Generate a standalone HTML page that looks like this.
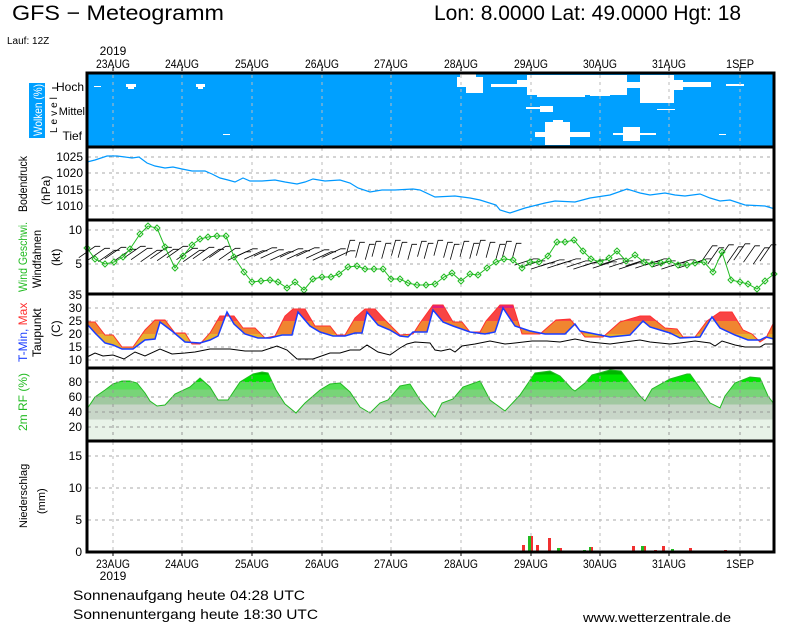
<!DOCTYPE html>
<html><head><meta charset="utf-8"><style>
html,body{margin:0;padding:0;background:#fff;width:800px;height:625px;overflow:hidden}
svg{display:block}
text{font-family:"Liberation Sans",sans-serif}
</style></head><body>
<svg width="800" height="625" viewBox="0 0 800 625" xmlns="http://www.w3.org/2000/svg">
<defs>
<linearGradient id="tg" gradientUnits="userSpaceOnUse" x1="0" y1="294" x2="0" y2="368">
<stop offset="0" stop-color="#e0207a"/><stop offset="0.189" stop-color="#e0207a"/>
<stop offset="0.189" stop-color="#f84444"/><stop offset="0.365" stop-color="#f84444"/>
<stop offset="0.365" stop-color="#f08530"/><stop offset="0.54" stop-color="#f08530"/>
<stop offset="0.54" stop-color="#e8b030"/><stop offset="1" stop-color="#e8b030"/>
</linearGradient>
<linearGradient id="rg" gradientUnits="userSpaceOnUse" x1="0" y1="367" x2="0" y2="442">
<stop offset="0" stop-color="#00b400"/><stop offset="0.1" stop-color="#00b400"/>
<stop offset="0.1" stop-color="#00e400"/><stop offset="0.2" stop-color="#00e400"/>
<stop offset="0.2" stop-color="#55e055"/><stop offset="0.3" stop-color="#55e055"/>
<stop offset="0.3" stop-color="#78d478"/><stop offset="0.4" stop-color="#78d478"/>
<stop offset="0.4" stop-color="#a0c8a0"/><stop offset="0.5" stop-color="#a0c8a0"/>
<stop offset="0.5" stop-color="#c8d6c8"/><stop offset="0.7" stop-color="#c8d6c8"/>
<stop offset="0.7" stop-color="#e8f3e8"/><stop offset="1" stop-color="#e8f3e8"/>
</linearGradient>
</defs>

<text x="12" y="20" font-size="21" textLength="212" lengthAdjust="spacingAndGlyphs">GFS − Meteogramm</text>
<text x="434" y="20" font-size="21">Lon: 8.0000  Lat: 49.0000  Hgt: 18</text>
<text x="7" y="44" font-size="10">Lauf: 12Z</text>
<g font-size="12" text-anchor="middle">
<text x="113" y="55">2019</text>
<text x="113" y="68" textLength="34" lengthAdjust="spacingAndGlyphs">23AUG</text>
<text x="182" y="68" textLength="34" lengthAdjust="spacingAndGlyphs">24AUG</text>
<text x="252" y="68" textLength="34" lengthAdjust="spacingAndGlyphs">25AUG</text>
<text x="322" y="68" textLength="34" lengthAdjust="spacingAndGlyphs">26AUG</text>
<text x="391" y="68" textLength="34" lengthAdjust="spacingAndGlyphs">27AUG</text>
<text x="461" y="68" textLength="34" lengthAdjust="spacingAndGlyphs">28AUG</text>
<text x="531" y="68" textLength="34" lengthAdjust="spacingAndGlyphs">29AUG</text>
<text x="600" y="68" textLength="34" lengthAdjust="spacingAndGlyphs">30AUG</text>
<text x="669" y="68" textLength="34" lengthAdjust="spacingAndGlyphs">31AUG</text>
<text x="740" y="68" textLength="28" lengthAdjust="spacingAndGlyphs">1SEP</text>
</g>

<rect x="87" y="73" width="687" height="74" fill="#00a0ff"/>
<g fill="#fff">
<rect x="94" y="86" width="7" height="1"/>
<rect x="126" y="84" width="10" height="3"/><rect x="128" y="87" width="6" height="2"/>
<rect x="196" y="84" width="9" height="3"/><rect x="198" y="87" width="5" height="2"/>
<rect x="223" y="134" width="7" height="1"/>
<rect x="457" y="77" width="26" height="10"/><rect x="466" y="86" width="17" height="7"/><rect x="460" y="74" width="16" height="4"/>
<rect x="491" y="84" width="40" height="3"/><rect x="517" y="80" width="20" height="7"/>
<rect x="527" y="75" width="100" height="20"/><rect x="537" y="94" width="48" height="3"/><rect x="590" y="94" width="20" height="2"/>
<rect x="627" y="82" width="14" height="6"/><rect x="640" y="75" width="34" height="28"/><rect x="673" y="80" width="10" height="10"/><rect x="683" y="82" width="28" height="5"/>
<rect x="726" y="84" width="18" height="2"/>
<rect x="526" y="107" width="27" height="2"/><rect x="540" y="106" width="13" height="6"/>
<rect x="657" y="109" width="18" height="1"/>
<rect x="535" y="132" width="55" height="5"/><rect x="545" y="122" width="25" height="23"/><rect x="553" y="120" width="10" height="3"/>
<rect x="613" y="133" width="43" height="2"/><rect x="623" y="127" width="17" height="14"/>
<rect x="719" y="134" width="7" height="1"/>
</g>

<g stroke="#aaa" stroke-width="1" stroke-dasharray="3,4">
<line x1="88" x2="773" y1="157" y2="157"/><line x1="88" x2="773" y1="173" y2="173"/><line x1="88" x2="773" y1="190" y2="190"/><line x1="88" x2="773" y1="206" y2="206"/>
<line x1="88" x2="773" y1="230" y2="230"/><line x1="88" x2="773" y1="264" y2="264"/>
<line x1="88" x2="773" y1="308" y2="308"/><line x1="88" x2="773" y1="321" y2="321"/><line x1="88" x2="773" y1="334" y2="334"/><line x1="88" x2="773" y1="347" y2="347"/><line x1="88" x2="773" y1="360" y2="360"/>
<line x1="88" x2="773" y1="456" y2="456"/><line x1="88" x2="773" y1="488" y2="488"/><line x1="88" x2="773" y1="520" y2="520"/>
</g>
<g stroke="#bbb" stroke-width="1" stroke-dasharray="3,4">
<path d="M113 75V146M182 75V146M252 75V146M322 75V146M391 75V146M461 75V146M531 75V146M600 75V146M669 75V146M740 75V146"/>
<path d="M113 148V219M182 148V219M252 148V219M322 148V219M391 148V219M461 148V219M531 148V219M600 148V219M669 148V219M740 148V219"/>
<path d="M113 221V293M182 221V293M252 221V293M322 221V293M391 221V293M461 221V293M531 221V293M600 221V293M669 221V293M740 221V293"/>
<path d="M113 295V367M182 295V367M252 295V367M322 295V367M391 295V367M461 295V367M531 295V367M600 295V367M669 295V367M740 295V367"/>
<path d="M113 442V551M182 442V551M252 442V551M322 442V551M391 442V551M461 442V551M531 442V551M600 442V551M669 442V551M740 442V551"/>
</g>

<polyline fill="none" stroke="#0099ff" stroke-width="1.2" points="87,162 95,160 107,156 117,156 125,157 132,158 139,157 147,163 155,166 165,168 173,167 182,169 192,171 205,171 212,174 220,178 228,180 235,182 243,178 250,181 262,181 275,180 285,182 297,184 305,182 313,179 325,181 340,180 350,183 358,188 370,192 382,190 395,190 413,189 420,190 435,197 455,196 470,198 480,200 496,205 500,210 510,213 525,208 545,203 555,201 575,202 590,198 610,195 627,189 640,193 650,195 665,193 675,195 685,196 700,194 710,198 720,201 730,200 745,205 765,206 775,209"/>

<g id="barbs" stroke="#000" stroke-width="0.8" fill="none"></g>
<g id="ws">
<polyline fill="none" stroke="#22bb22" stroke-width="1" points="87,248 95,259 105,264 114,262 123,257 130,249 140,234 148,226 157,228 165,247 175,268 183,256 192,245 200,239 208,237 217,236 226,236 234,257 244,272 252,282 261,281 270,280 278,282 287,288 295,282 304,290 313,279 322,277 331,277 339,274 348,267 357,266 365,269 374,269 383,269 391,279 400,279 408,283 417,285 426,285 435,284 444,277 452,273 461,281 470,274 478,275 487,268 496,262 504,259 513,260 522,268 530,262 539,262 548,256 557,242 565,242 574,240 583,251 591,259 600,262 609,258 617,251 626,261 635,255 644,262 652,264 661,263 669,261 678,265 687,265 695,263 704,262 713,272 722,252 731,280 740,282 748,284 757,289 765,281 774,274"/>
</g>

<polygon fill="url(#tg)" points="87,322 95,322 105,335 113,335 122,347 133,347 145,330 155,320 165,320 175,333 185,333 192,344 200,344 210,333 220,316 234,316 243,328 255,328 265,338 275,336 285,316 293,309 305,309 315,326 330,326 337,335 345,335 355,318 365,309 375,309 385,320 400,335 413,334 420,323 433,305 443,305 453,322 462,322 470,332 480,332 486,321 500,305 513,305 522,334 540,334 556,320 570,319 585,337 603,337 620,322 640,316 650,316 665,328 677,329 683,337 695,337 707,321 720,312 732,312 743,330 752,334 760,342 766,338 774,322 774,339 766,337 760,340 748,340 735,335 720,328 712,317 700,337 680,338 670,333 650,327 643,321 630,335 610,337 595,334 580,331 575,324 565,334 545,334 530,331 515,326 503,308 495,332 485,334 470,332 453,326 443,322 433,310 427,332 413,332 408,337 400,336 390,330 378,325 367,312 362,333 355,333 345,336 333,336 320,332 310,326 298,312 292,335 282,335 270,338 258,338 245,334 234,324 227,312 218,336 210,340 200,343 185,342 172,331 160,322 155,339 145,340 133,349 122,349 113,345 105,343 95,333 87,324"/>
<polyline fill="none" stroke="#ff3030" stroke-width="1" points="87,322 95,322 105,335 113,335 122,347 133,347 145,330 155,320 165,320 175,333 185,333 192,344 200,344 210,333 220,316 234,316 243,328 255,328 265,338 275,336 285,316 293,309 305,309 315,326 330,326 337,335 345,335 355,318 365,309 375,309 385,320 400,335 413,334 420,323 433,305 443,305 453,322 462,322 470,332 480,332 486,321 500,305 513,305 522,334 540,334 556,320 570,319 585,337 603,337 620,322 640,316 650,316 665,328 677,329 683,337 695,337 707,321 720,312 732,312 743,330 752,334 760,342 766,338 774,322"/>
<polyline fill="none" stroke="#1a3cff" stroke-width="1.5" points="87,324 95,333 105,343 113,345 122,349 133,349 145,340 155,339 160,322 172,331 185,342 200,343 210,340 218,336 227,312 234,324 245,334 258,338 270,338 282,335 292,335 298,312 310,326 320,332 333,336 345,336 355,333 362,333 367,312 378,325 390,330 400,336 408,337 413,332 427,332 433,310 443,322 453,326 470,332 485,334 495,332 503,308 515,326 530,331 545,334 565,334 575,324 580,331 595,334 610,337 630,335 643,321 650,327 670,333 680,338 700,337 712,317 720,328 735,335 748,340 760,340 766,337 774,339"/>
<polyline fill="none" stroke="#000" stroke-width="1" points="87,357 95,353 103,356 113,355 124,359 135,352 145,356 160,349 172,354 185,353 195,352 210,349 230,349 245,351 262,351 277,346 287,350 297,359 313,359 330,353 340,353 350,350 360,350 367,345 378,352 390,355 400,348 407,344 415,342 430,343 435,350 441,351 450,349 455,352 462,346 475,344 490,341 505,344 515,343 532,341 547,341 560,342 575,339 590,342 610,344 625,342 640,340 650,342 670,344 680,343 695,341 710,343 715,346 722,341 735,345 745,347 760,347 765,344 774,344"/>

<polygon fill="url(#rg)" stroke="#22bb22" stroke-width="1" points="87,442 87,409 95,397 105,390 113,384 122,381 130,381 137,383 145,393 150,401 157,406 165,405 175,394 190,387 200,378 210,387 218,400 228,400 240,382 253,374 262,372 268,373 276,390 285,404 296,413 305,403 320,390 330,384 340,383 350,392 360,407 370,413 380,403 388,400 400,386 410,384 420,400 435,417 442,403 453,399 463,387 480,381 490,400 505,411 520,395 535,373 550,371 560,376 572,389 575,391 585,383 592,375 610,370 621,371 630,383 640,396 645,401 652,389 670,379 687,374 690,374 700,388 710,403 720,408 725,396 735,383 750,377 760,378 768,396 774,404 774,442"/>
<g stroke="#999" stroke-width="1" stroke-dasharray="3,4">
<line x1="88" x2="773" y1="382" y2="382"/><line x1="88" x2="773" y1="397" y2="397"/><line x1="88" x2="773" y1="412" y2="412"/><line x1="88" x2="773" y1="427" y2="427"/>
<path d="M113 369V440M182 369V440M252 369V440M322 369V440M391 369V440M461 369V440M531 369V440M600 369V440M669 369V440M740 369V440"/>
</g>

<g>
<rect x="522" y="545" width="3" height="7" fill="#f03030"/>
<rect x="528" y="536" width="3" height="16" fill="#22bb22"/><rect x="531" y="536" width="2" height="16" fill="#f03030"/>
<rect x="536" y="545" width="3" height="7" fill="#f03030"/>
<rect x="548" y="538" width="3" height="14" fill="#f03030"/>
<rect x="557" y="548" width="3" height="4" fill="#22bb22"/><rect x="560" y="548" width="2" height="4" fill="#f03030"/>
<rect x="583" y="550" width="3" height="2" fill="#22bb22"/>
<rect x="589" y="547" width="3" height="5" fill="#22bb22"/><rect x="591" y="547" width="2" height="5" fill="#f03030"/>
<rect x="632" y="546" width="3" height="6" fill="#f03030"/>
<rect x="641" y="546" width="3" height="6" fill="#22bb22"/><rect x="644" y="546" width="2" height="6" fill="#f03030"/>
<rect x="654" y="550" width="3" height="2" fill="#f03030"/>
<rect x="662" y="546" width="3" height="6" fill="#f03030"/>
<rect x="671" y="549" width="3" height="3" fill="#22bb22"/>
<rect x="689" y="548" width="3" height="4" fill="#f03030"/>
<rect x="724" y="550" width="3" height="2" fill="#f03030"/>
</g>

<g stroke="#000" stroke-width="3" fill="none">
<rect x="87" y="73" width="687" height="479"/>
<line x1="87" x2="774" y1="147" y2="147"/><line x1="87" x2="774" y1="220" y2="220"/><line x1="87" x2="774" y1="294" y2="294"/><line x1="87" x2="774" y1="368" y2="368"/><line x1="87" x2="774" y1="441" y2="441"/>
</g>
<g stroke="#000" stroke-width="1"><path d="M113 552v4M182 552v4M252 552v4M322 552v4M391 552v4M461 552v4M531 552v4M600 552v4M669 552v4M740 552v4M113 71v-4M182 71v-4M252 71v-4M322 71v-4M391 71v-4M461 71v-4M531 71v-4M600 71v-4M669 71v-4M740 71v-4"/></g>

<g font-size="12" text-anchor="end">
<text x="84" y="91">Hoch</text><text x="85" y="115" font-size="11">Mittel</text><text x="82" y="140">Tief</text>
<text x="83" y="161">1025</text><text x="83" y="177">1020</text><text x="83" y="194">1015</text><text x="83" y="210">1010</text>
<text x="82" y="234">10</text><text x="82" y="268">5</text>
<text x="82" y="299">35</text><text x="82" y="312">30</text><text x="82" y="325">25</text><text x="82" y="338">20</text><text x="82" y="351">15</text><text x="82" y="364">10</text>
<text x="82" y="386">80</text><text x="82" y="401">60</text><text x="82" y="416">40</text><text x="82" y="431">20</text>
<text x="82" y="460">15</text><text x="82" y="492">10</text><text x="82" y="524">5</text><text x="82" y="556">0</text>
</g>
<g stroke="#000"><line x1="52" x2="58" y1="88" y2="88"/></g>

<rect x="29" y="83" width="16" height="55" fill="#00a0ff"/>
<g font-size="12">
<text transform="translate(42,136) rotate(-90)" fill="#fff" textLength="52" lengthAdjust="spacingAndGlyphs">Wolken (%)</text>
<text transform="translate(57,133) rotate(-90)" font-size="10" letter-spacing="3">Level</text>
<text transform="translate(27,212) rotate(-90)" textLength="56" lengthAdjust="spacingAndGlyphs">Bodendruck</text>
<text transform="translate(50,205) rotate(-90)">(hPa)</text>
<text transform="translate(27,292) rotate(-90)" fill="#22bb22" textLength="70" lengthAdjust="spacingAndGlyphs">Wind Geschwi.</text>
<text transform="translate(41,288) rotate(-90)" textLength="58" lengthAdjust="spacingAndGlyphs">Windfahnen</text>
<text transform="translate(60,266) rotate(-90)">(kt)</text>
<text transform="translate(27,362) rotate(-90)"><tspan fill="#1a3cff">T-Min, </tspan><tspan fill="#ff3030">Max</tspan></text>
<text transform="translate(41,357) rotate(-90)">Taupunkt</text>
<text transform="translate(60,337) rotate(-90)">(C)</text>
<text transform="translate(27,431) rotate(-90)" fill="#22bb22">2m RF (%)</text>
<text transform="translate(27,528) rotate(-90)" font-size="11">Niederschlag</text>
<text transform="translate(45,514) rotate(-90)" font-size="11">(mm)</text>
</g>

<g font-size="12" text-anchor="middle">
<text x="113" y="568" textLength="34" lengthAdjust="spacingAndGlyphs">23AUG</text>
<text x="113" y="580">2019</text>
<text x="182" y="568" textLength="34" lengthAdjust="spacingAndGlyphs">24AUG</text>
<text x="252" y="568" textLength="34" lengthAdjust="spacingAndGlyphs">25AUG</text>
<text x="322" y="568" textLength="34" lengthAdjust="spacingAndGlyphs">26AUG</text>
<text x="391" y="568" textLength="34" lengthAdjust="spacingAndGlyphs">27AUG</text>
<text x="461" y="568" textLength="34" lengthAdjust="spacingAndGlyphs">28AUG</text>
<text x="531" y="568" textLength="34" lengthAdjust="spacingAndGlyphs">29AUG</text>
<text x="600" y="568" textLength="34" lengthAdjust="spacingAndGlyphs">30AUG</text>
<text x="669" y="568" textLength="34" lengthAdjust="spacingAndGlyphs">31AUG</text>
<text x="740" y="568" textLength="28" lengthAdjust="spacingAndGlyphs">1SEP</text>
</g>
<text x="73" y="600" font-size="14" textLength="232" lengthAdjust="spacingAndGlyphs">Sonnenaufgang heute 04:28 UTC</text>
<text x="73" y="619" font-size="14" textLength="245" lengthAdjust="spacingAndGlyphs">Sonnenuntergang heute 18:30 UTC</text>
<text x="583" y="622" font-size="13" textLength="148" lengthAdjust="spacingAndGlyphs">www.wetterzentrale.de</text>
</svg>
<script>
(function(){
var ns="http://www.w3.org/2000/svg";
var g=document.getElementById("barbs");
var ws=document.getElementById("ws");
var pts=ws.querySelector("polyline").getAttribute("points").trim().split(/\s+/).map(function(p){return p.split(",").map(Number);});
pts.forEach(function(p){
  var d=document.createElementNS(ns,"path");
  d.setAttribute("d","M"+(p[0]-3)+" "+p[1]+"l3 -3l3 3l-3 3z");
  d.setAttribute("fill","none");d.setAttribute("stroke","#22bb22");
  ws.appendChild(d);
});
function ang(x){
  if(x<235) return -35;
  if(x<345) return -25;
  if(x<520) return -75;
  if(x<700) return -18;
  return -55;
}
for(var i=0;i<80;i++){
  var x=87+i*8.7+(i%3); if(x>772)break;
  var a=ang(x)*Math.PI/180, L=(x>345&&x<520)?16:20;
  var by=(x>520&&x<700)?264:(x>345&&x<520?250:254);
  by+=((i*7)%5)-2;
  var x0=x-L/2*Math.cos(a), y0=by-L/2*Math.sin(a);
  var x1=x+L/2*Math.cos(a), y1=by+L/2*Math.sin(a);
  var p=document.createElementNS(ns,"path");
  p.setAttribute("d","M"+x0.toFixed(1)+" "+y0.toFixed(1)+"L"+x1.toFixed(1)+" "+y1.toFixed(1)+"l5 0");
  g.appendChild(p);
}
})();
</script>
</body></html>
